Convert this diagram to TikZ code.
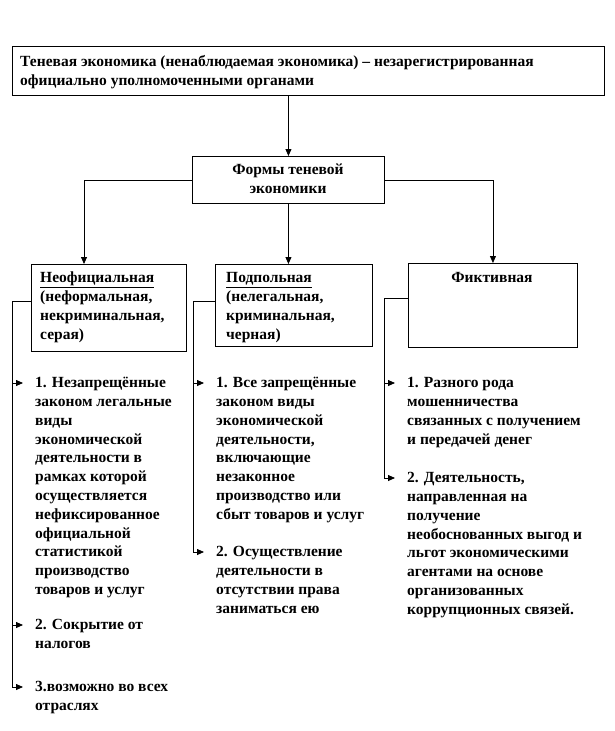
\documentclass[tikz,border=0pt]{standalone}
\usepackage{fontspec}
\setmainfont{Liberation Serif}
\usetikzlibrary{arrows.meta,calc}
\begin{document}
\begin{tikzpicture}[x=1pt,y=-1pt,
  box/.style={draw, line width=0.9pt, inner sep=0pt, anchor=north west},
  txt/.style={anchor=north west, inner sep=0pt, align=left,
    font=\fontsize{15.5}{18.8}\selectfont\bfseries},
  ctxt/.style={anchor=north, inner sep=0pt, align=center,
    font=\fontsize{15.5}{18.8}\selectfont\bfseries},
  link/.style={line width=0.8pt},
  arr/.style={link, -{Triangle[length=7pt,width=6pt]}}]
\useasboundingbox (0,0) rectangle (615,731);

% boxes
\node[box, minimum width=592pt, minimum height=49pt] (top) at (12,46) {};
\node[box, minimum width=192pt, minimum height=47pt] (forms) at (192,156) {};
\node[box, minimum width=155pt, minimum height=87pt] (b1) at (31,264) {};
\node[box, minimum width=157pt, minimum height=82pt] (b2) at (215,264) {};
\node[box, minimum width=169pt, minimum height=84pt] (b3) at (408,263) {};

% box texts
\node[txt] (topt) at (20,53.3) {\strut Теневая экономика (ненаблюдаемая экономика) – незарегистрированная\\официально уполномоченными органами};
\node[ctxt] (formst) at (288,161.3) {\strut Формы теневой\\экономики};
\node[txt] (b1t) at (40,269.3) {\strut\underline{Неофициальная}\\(неформальная,\\некриминальная,\\серая)};
\node[txt] (b2t) at (226,269.3) {\strut\underline{Подпольная}\\(нелегальная,\\криминальная,\\черная)};
\node[ctxt] (b3t) at (492,269.3) {\strut Фиктивная};

% connectors between boxes
\draw[arr] (forms.north |- top.south) -- (forms.north);
\draw[arr] (forms.west) -| ($(b1.north west)+(53,0)$);
\draw[arr] (forms.south) -- (forms.south |- b2.north);
\draw[arr] (forms.east) -| (b3.north);

% spine coordinates
\coordinate (s1) at ($(b1.north west)+(0,37)$);
\coordinate (c1) at (12,301);
\coordinate (s2) at ($(b2.north west)+(0,37)$);
\coordinate (c2) at (193,301);
\coordinate (s3) at ($(b3.north west)+(0,35)$);
\coordinate (c3) at (384,298);

% arrow tips
\coordinate (t11) at (23,383);
\coordinate (t12) at (23,625);
\coordinate (t13) at (23,687);
\coordinate (t21) at (204,383);
\coordinate (t22) at (204,552);
\coordinate (t31) at (395,383);
\coordinate (t32) at (395,478);

% items
\node[txt] (i11) at ($(t11)+(12,-8.7)$) {\strut 1. Незапрещённые\\законом легальные\\виды\\экономической\\деятельности в\\рамках которой\\осуществляется\\нефиксированное\\официальной\\статистикой\\производство\\товаров и услуг};
\node[txt] (i12) at ($(t12)+(12,-8.7)$) {\strut 2. Сокрытие от\\налогов};
\node[txt] (i13) at ($(t13)+(12,-8.7)$) {\strut 3.возможно во всех\\отраслях};
\node[txt] (i21) at ($(t21)+(12,-8.7)$) {\strut 1. Все запрещённые\\законом виды\\экономической\\деятельности,\\включающие\\незаконное\\производство или\\сбыт товаров и услуг};
\node[txt] (i22) at ($(t22)+(12,-8.7)$) {\strut 2. Осуществление\\деятельности в\\отсутствии права\\заниматься ею};
\node[txt] (i31) at ($(t31)+(12,-8.7)$) {\strut 1. Разного рода\\мошенничества\\связанных с получением\\и передачей денег};
\node[txt] (i32) at ($(t32)+(12,-8.7)$) {\strut 2. Деятельность,\\направленная на\\получение\\необоснованных выгод и\\льгот экономическими\\агентами на основе\\организованных\\коррупционных связей.};

% spines
\draw[link] (s1) -- (c1);
\draw[arr] (c1 |- t11) -- (t11);
\draw[arr] (c1 |- t12) -- (t12);
\draw[arr] (c1) |- (t13);
\draw[link] (s2) -- (c2);
\draw[arr] (c2 |- t21) -- (t21);
\draw[arr] (c2) |- (t22);
\draw[link] (s3) -- (c3);
\draw[arr] (c3 |- t31) -- (t31);
\draw[arr] (c3) |- (t32);
\end{tikzpicture}
\end{document}
